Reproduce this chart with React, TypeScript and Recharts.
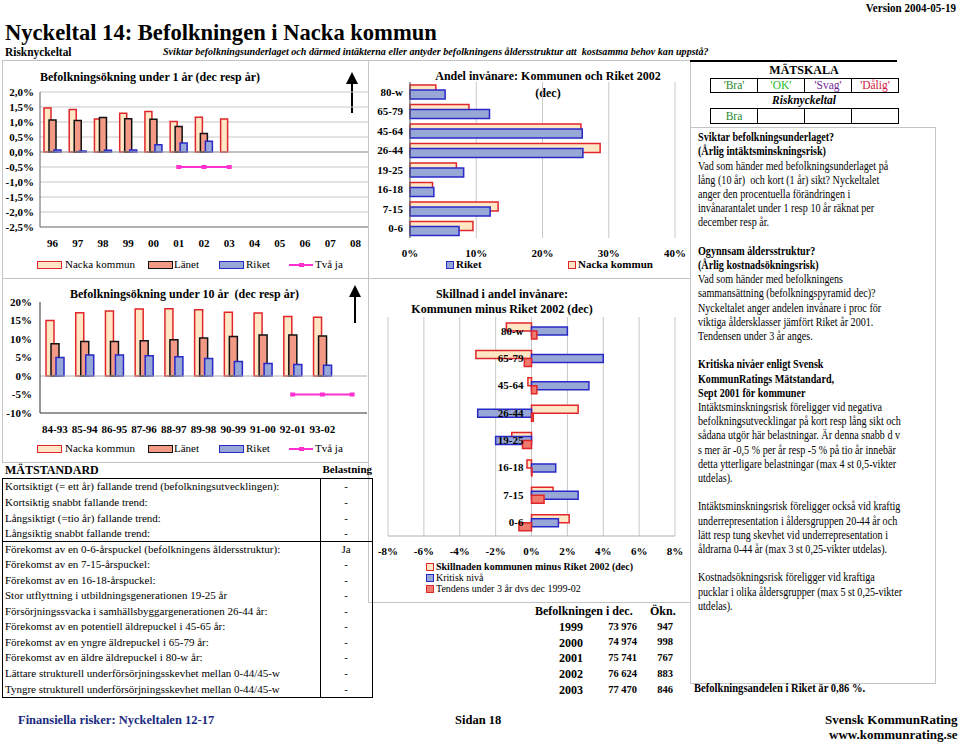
import React from "react";
import {
  Bar,
  BarChart,
  CartesianGrid,
  ComposedChart,
  Line,
  ReferenceLine,
  XAxis,
  YAxis,
} from "recharts";

const serif = "'Liberation Serif', 'Times New Roman', serif";

// chart 1: befolkningsökning under 1 år
const years = ["96", "97", "98", "99", "00", "01", "02", "03", "04", "05", "06", "07", "08"];
const nackaYear = [1.47, 1.42, 1.1, 1.29, 1.35, 1.02, 1.16, 1.1, null, null, null, null, null];
const lanetYear = [1.07, 1.05, 1.15, 1.11, 1.09, 0.85, 0.62, null, null, null, null, null, null];
const riketYear = [0.07, 0.03, 0.06, 0.07, 0.24, 0.3, 0.36, null, null, null, null, null, null];
const tvaJaYear = [null, null, null, null, null, -0.5, -0.5, -0.5, null, null, null, null, null];
const yearTicks = [-2.5, -2, -1.5, -1, -0.5, 0, 0.5, 1, 1.5, 2];

// chart 2: befolkningsökning under 10 år
const periods = ["84-93", "85-94", "86-95", "87-96", "88-97", "89-98", "90-99", "91-00", "92-01", "93-02", ""];
const nackaTen = [15.0, 17.1, 17.6, 18.1, 18.2, 17.9, 17.2, 17.0, 16.1, 15.9, null];
const lanetTen = [8.7, 9.3, 9.3, 9.5, 9.8, 10.3, 10.7, 11.1, 11.1, 10.8, null];
const riketTen = [5.0, 5.7, 5.7, 5.5, 5.2, 4.7, 3.9, 3.4, 3.1, 2.9, null];
const tvaJaTen = [null, null, null, null, null, null, null, null, -5, -5, -5];
const tenTicks = [-10, -5, 0, 5, 10, 15, 20];

// chart 3: andel invånare 2002
const ageGroups = ["80-w", "65-79", "45-64", "26-44", "19-25", "16-18", "7-15", "0-6"];
const nackaShare = [3.9, 8.9, 25.8, 28.7, 7.0, 3.4, 13.3, 9.5];
const riketShare = [5.3, 12.0, 26.0, 26.1, 8.1, 3.6, 12.1, 7.4];
const shareTicks = [0, 10, 20, 30, 40];

// chart 4: skillnad kommunen minus riket
const diffShare = [-1.4, -3.1, -0.2, 2.6, -1.1, -0.25, 1.2, 2.1];
const criticalLevel = [2.0, 4.0, 3.2, -3.0, -2.0, 1.35, 2.6, 1.5];
const trend3y = [0.3, -0.4, 0.3, 0.1, -0.5, 0.03, 0.7, -0.7];
const diffTicks = [-8, -6, -4, -2, 0, 2, 4, 6, 8];

// befolkningen i dec
const popYears = ["1999", "2000", "2001", "2002", "2003"];
const popValues = ["73 976", "74 974", "75 741", "76 624", "77 470"];
const popIncrease = ["947", "998", "767", "883", "846"];

const standardRows = [
  ["Kortsiktigt (= ett år) fallande trend (befolkningsutvecklingen):", "-"],
  ["Kortsiktig snabbt fallande trend:", "-"],
  ["Långsiktigt (=tio år) fallande trend:", "-"],
  ["Långsiktig snabbt fallande trend:", "-"],
  ["Förekomst av en 0-6-årspuckel (befolkningens åldersstruktur):", "Ja"],
  ["Förekomst av en 7-15-årspuckel:", "-"],
  ["Förekomst av en 16-18-årspuckel:", "-"],
  ["Stor utflyttning i utbildningsgenerationen 19-25 år", "-"],
  ["Försörjningssvacka i samhällsbyggargenerationen 26-44 år:", "-"],
  ["Förekomst av en potentiell äldrepuckel i 45-65 år:", "-"],
  ["Förekomst av en yngre äldrepuckel i 65-79 år:", "-"],
  ["Förekomst av en äldre äldrepuckel i 80-w år:", "-"],
  ["Lättare strukturell underförsörjningsskevhet mellan 0-44/45-w", "-"],
  ["Tyngre strukturell underförsörjningsskevhet mellan 0-44/45-w", "-"],
];

const panelLines: [string, boolean][] = [
  ["Sviktar befolkningsunderlaget?", true],
  ["(Årlig intäktsminskningsrisk)", true],
  ["Vad som händer med befolkningsunderlaget på", false],
  ["lång (10 år)  och kort (1 år) sikt? Nyckeltalet", false],
  ["anger den procentuella förändringen i", false],
  ["invånarantalet under 1 resp 10 år räknat per", false],
  ["december resp år.", false],
  ["", false],
  ["Ogynnsam åldersstruktur?", true],
  ["(Årlig kostnadsökningsrisk)", true],
  ["Vad som händer med befolkningens", false],
  ["sammansättning (befolkningspyramid dec)?", false],
  ["Nyckeltalet anger andelen invånare i proc för", false],
  ["viktiga åldersklasser jämfört Riket år 2001.", false],
  ["Tendensen under 3 år anges.", false],
  ["", false],
  ["Kritiska nivåer enligt Svensk", true],
  ["KommunRatings Mätstandard,", true],
  ["Sept 2001 för kommuner", true],
  ["Intäktsminskningsrisk föreligger vid negativa", false],
  ["befolkningsutvecklingar på kort resp lång sikt och", false],
  ["sådana utgör här belastningar. Är denna snabb d v", false],
  ["s mer är -0,5 % per år resp -5 % på tio år innebär", false],
  ["detta ytterligare belastningar (max 4 st 0,5-vikter", false],
  ["utdelas).", false],
  ["", false],
  ["Intäktsminskningsrisk föreligger också vid kraftig", false],
  ["underrepresentation i åldersgruppen 20-44 år och", false],
  ["lätt resp tung skevhet vid underrepresentation i", false],
  ["åldrarna 0-44 år (max 3 st 0,25-vikter utdelas).", false],
  ["", false],
  ["Kostnadsökningsrisk föreligger vid kraftiga", false],
  ["pucklar i olika åldersgrupper (max 5 st 0,25-vikter", false],
  ["utdelas).", false],
];

const yearData = years.map((year, i) => ({
  year,
  nacka: nackaYear[i],
  lanet: lanetYear[i],
  riket: riketYear[i],
  tvaJa: tvaJaYear[i],
}));
const tenData = periods.map((period, i) => ({
  period,
  nacka: nackaTen[i],
  lanet: lanetTen[i],
  riket: riketTen[i],
  tvaJa: tvaJaTen[i],
}));
const shareData = ageGroups.map((age, i) => ({ age, nacka: nackaShare[i], riket: riketShare[i] }));
const diffData = ageGroups.map((age, i) => ({
  age,
  diff: diffShare[i],
  critical: criticalLevel[i],
  trend: trend3y[i],
}));

const RED = "#e0262a";
const BLUE = "#2828c8";
const CREAM = "#ffe7c6";
const SALMON = "#f29a86";
const BLUEFILL = "#98a8d6";
const PINK = "#ff30d0";

const tickStyle = { fontSize: 11, fontWeight: 700, fill: "#000", fontFamily: serif };

const pct1 = (v: number) => v.toFixed(1).replace(".", ",") + "%";
const pct0 = (v: number) => v + "%";

type TP = {
  x: number;
  y: number;
  s: number;
  b?: boolean;
  i?: boolean;
  c?: string;
  sx?: number;
  a?: "left" | "center" | "right";
  children: React.ReactNode;
};

function T({ x, y, s, b, i, c, sx = 1, a = "left", children }: TP) {
  const tx = a === "center" ? "-50%" : a === "right" ? "-100%" : "0";
  return (
    <div
      style={{
        position: "absolute",
        left: x,
        top: y - s * 0.6,
        fontSize: s,
        lineHeight: `${s * 1.2}px`,
        fontWeight: b ? 700 : 400,
        fontStyle: i ? "italic" : "normal",
        color: c || "#000",
        whiteSpace: "pre",
        transform: `translateX(${tx}) scaleX(${sx})`,
        transformOrigin: a === "center" ? "center" : a === "right" ? "right" : "left",
      }}
    >
      {children}
    </div>
  );
}

function Box({ x, y, w, h, c = "#c4c4c4" }: { x: number; y: number; w: number; h: number; c?: string }) {
  return (
    <div
      style={{
        position: "absolute",
        left: x,
        top: y,
        width: w,
        height: h,
        border: `1px solid ${c}`,
        boxSizing: "border-box",
      }}
    />
  );
}

function Swatch({ x, y, fill, stroke, w = 25, h = 8 }: { x: number; y: number; fill: string; stroke: string; w?: number; h?: number }) {
  return (
    <div
      style={{
        position: "absolute",
        left: x,
        top: y - h / 2,
        width: w,
        height: h,
        background: fill,
        border: `1.5px solid ${stroke}`,
        boxSizing: "border-box",
      }}
    />
  );
}

function Arrow({ x, y1, y2 }: { x: number; y1: number; y2: number }) {
  return (
    <svg style={{ position: "absolute", left: x - 6, top: y1 }} width={12} height={y2 - y1}>
      <polygon points={`6,0 0,12 12,12`} fill="#000" />
      <line x1={6} y1={10} x2={6} y2={y2 - y1} stroke="#000" strokeWidth={2} />
    </svg>
  );
}

const squareDot = (props: any) => {
  const { cx, cy, key } = props;
  if (cx == null || cy == null || isNaN(cy)) return <g key={key} />;
  return <rect key={key} x={cx - 2.5} y={cy - 2} width={5} height={4} fill={PINK} />;
};

function LegendRow({ y }: { y: number }) {
  return (
    <>
      <Swatch x={37} y={y} fill={CREAM} stroke={RED} />
      <T x={65} y={y} s={11}>Nacka kommun</T>
      <Swatch x={148} y={y} fill={SALMON} stroke="#111" />
      <T x={174} y={y} s={11}>Länet</T>
      <Swatch x={219} y={y} fill={BLUEFILL} stroke={BLUE} />
      <T x={246} y={y} s={11}>Riket</T>
      <div style={{ position: "absolute", left: 289, top: y - 1, width: 24, height: 2, background: PINK }} />
      <div style={{ position: "absolute", left: 299, top: y - 2, width: 5, height: 4, background: PINK }} />
      <T x={315} y={y} s={11}>Två ja</T>
    </>
  );
}

const W4 = 318;
const M4L = 17;
const M4R = 13;
const Y4W = 1;
const PLOT4 = W4 - M4L - M4R - Y4W;

const AgeTick = (props: any) => {
  const { x, y, payload } = props;
  return (
    <text x={x + PLOT4 / 2 - 8} y={y} dy="0.35em" textAnchor="end" style={tickStyle}>
      {payload.value}
    </text>
  );
};

export default function App() {
  return (
    <div
      style={{
        position: "absolute",
        left: 0,
        top: 0,
        width: 960,
        height: 742,
        background: "#fff",
        overflow: "hidden",
        fontFamily: serif,
      }}
    >
      {/* header */}
      <T x={956} y={8} s={13} b sx={0.85} a="right">Version 2004-05-19</T>
      <T x={5} y={32} s={24} b sx={0.94}>Nyckeltal 14: Befolkningen i Nacka kommun</T>
      <T x={5} y={52} s={12} b sx={0.95}>Risknyckeltal</T>
      <T x={163} y={52} s={10.5} b i sx={0.96}>
        Sviktar befolkningsunderlaget och därmed intäkterna eller antyder befolkningens åldersstruktur att  kostsamma behov kan uppstå?
      </T>

      {/* frames */}
      <Box x={2} y={60} w={367} h={219} />
      <Box x={2} y={278} w={367} h={185} />
      <Box x={368} y={60} w={323} h={219} />
      <Box x={368} y={278} w={323} h={325} />
      <Box x={690} y={127} w={246} h={557} />

      {/* chart 1 */}
      <T x={40} y={77} s={12} b>Befolkningsökning under 1 år (dec resp år)</T>
      <Arrow x={352} y1={72} y2={113} />
      <div style={{ position: "absolute", left: 0, top: 82 }}>
        <ComposedChart
          width={370}
          height={175}
          data={yearData}
          margin={{ top: 10, right: 2, bottom: 0, left: 0 }}
          barSize={7}
          barGap={-2}
        >
          <CartesianGrid vertical={false} stroke="#c8c8c8" />
          <XAxis
            dataKey="year"
            interval={0}
            height={30}
            tickLine={false}
            tickSize={0}
            tickMargin={12}
            axisLine={{ stroke: "#808080" }}
            tick={tickStyle}
          />
          <YAxis
            domain={[-2.5, 2]}
            ticks={yearTicks}
            interval={0}
            tickFormatter={pct1}
            width={40}
            tickLine={false}
            tickSize={0}
            tickMargin={6}
            axisLine={{ stroke: "#606060" }}
            tick={tickStyle}
          />
          <ReferenceLine y={0} stroke="#a0a0a0" />
          <Bar dataKey="nacka" fill={CREAM} stroke={RED} strokeWidth={1.5} isAnimationActive={false} />
          <Bar dataKey="lanet" fill={SALMON} stroke="#111" strokeWidth={1.5} isAnimationActive={false} />
          <Bar dataKey="riket" fill={BLUEFILL} stroke={BLUE} strokeWidth={1.5} isAnimationActive={false} />
          <Line
            dataKey="tvaJa"
            stroke={PINK}
            strokeWidth={2}
            dot={squareDot}
            activeDot={false}
            connectNulls={false}
            isAnimationActive={false}
          />
        </ComposedChart>
      </div>
      <LegendRow y={265} />

      {/* chart 2 */}
      <T x={70} y={294} s={12} b>Befolkningsökning under 10 år  (dec resp år)</T>
      <Arrow x={355} y1={285} y2={323} />
      <div style={{ position: "absolute", left: 0, top: 292 }}>
        <ComposedChart
          width={369}
          height={150}
          data={tenData}
          margin={{ top: 10, right: 2, bottom: 0, left: 0 }}
          barSize={8}
          barGap={-3}
        >
          <XAxis
            dataKey="period"
            interval={0}
            height={29}
            tickLine={false}
            tickSize={0}
            tickMargin={12}
            axisLine={{ stroke: "#303030" }}
            tick={tickStyle}
          />
          <YAxis
            domain={[-10, 20]}
            ticks={tenTicks}
            interval={0}
            tickFormatter={pct0}
            width={40}
            tickLine={false}
            tickSize={0}
            tickMargin={8}
            axisLine={{ stroke: "#303030" }}
            tick={tickStyle}
          />
          <ReferenceLine y={0} stroke="#b0b0b0" />
          <Bar dataKey="nacka" fill={CREAM} stroke={RED} strokeWidth={1.5} isAnimationActive={false} />
          <Bar dataKey="lanet" fill={SALMON} stroke="#111" strokeWidth={1.5} isAnimationActive={false} />
          <Bar dataKey="riket" fill={BLUEFILL} stroke={BLUE} strokeWidth={1.5} isAnimationActive={false} />
          <Line
            dataKey="tvaJa"
            stroke={PINK}
            strokeWidth={2}
            dot={squareDot}
            activeDot={false}
            isAnimationActive={false}
          />
        </ComposedChart>
      </div>
      <LegendRow y={449} />

      {/* chart 3 */}
      <T x={548} y={76} s={12} b a="center">Andel invånare: Kommunen och Riket 2002</T>
      <T x={548} y={93} s={12} b a="center">(dec)</T>
      <div style={{ position: "absolute", left: 370, top: 70 }}>
        <BarChart
          layout="vertical"
          width={318}
          height={195}
          data={shareData}
          margin={{ top: 12, right: 13, bottom: 0, left: 0 }}
          barSize={9}
          barGap={-4}
        >
          <CartesianGrid horizontal={false} stroke="#c8c8c8" />
          <XAxis
            type="number"
            domain={[0, 40]}
            ticks={shareTicks}
            interval={0}
            tickFormatter={pct0}
            height={27}
            tickLine={false}
            tickSize={0}
            tickMargin={11}
            axisLine={false}
            tick={tickStyle}
          />
          <YAxis
            type="category"
            dataKey="age"
            width={40}
            interval={0}
            tickLine={false}
            tickSize={0}
            tickMargin={7}
            axisLine={{ stroke: "#606060" }}
            tick={tickStyle}
          />
          <Bar dataKey="nacka" fill={CREAM} stroke={RED} strokeWidth={1.5} isAnimationActive={false} />
          <Bar dataKey="riket" fill={BLUEFILL} stroke={BLUE} strokeWidth={1.5} isAnimationActive={false} />
        </BarChart>
      </div>
      <Swatch x={446} y={265} w={8} h={8} fill={BLUEFILL} stroke={BLUE} />
      <T x={456} y={265} s={11} b>Riket</T>
      <Swatch x={568} y={265} w={8} h={8} fill={CREAM} stroke={RED} />
      <T x={578} y={265} s={11} b>Nacka kommun</T>

      {/* chart 4 */}
      <T x={502} y={294} s={12} b a="center">Skillnad i andel invånare:</T>
      <T x={502} y={309} s={12} b a="center">Kommunen minus Riket 2002 (dec)</T>
      <div style={{ position: "absolute", left: 370, top: 305 }}>
        <BarChart
          layout="vertical"
          width={W4}
          height={260}
          data={diffData}
          margin={{ top: 12, right: M4R, bottom: 0, left: M4L }}
          barSize={8}
          barGap={-4}
        >
          <CartesianGrid horizontal={false} stroke="#c8c8c8" />
          <XAxis
            type="number"
            domain={[-8, 8]}
            ticks={diffTicks}
            interval={0}
            tickFormatter={pct0}
            height={29}
            tickLine={false}
            tickSize={0}
            tickMargin={11}
            axisLine={{ stroke: "#b0b0b0" }}
            tick={tickStyle}
          />
          <Bar dataKey="diff" fill={CREAM} stroke={RED} strokeWidth={1.5} isAnimationActive={false} />
          <Bar dataKey="critical" fill={BLUEFILL} stroke={BLUE} strokeWidth={1.5} isAnimationActive={false} />
          <Bar dataKey="trend" fill="#ef7b6e" stroke={RED} strokeWidth={1.5} isAnimationActive={false} />
          <YAxis
            type="category"
            dataKey="age"
            width={Y4W}
            interval={0}
            tickLine={false}
            tickSize={0}
            tickMargin={0}
            axisLine={false}
            tick={AgeTick}
          />
        </BarChart>
      </div>
      <Swatch x={426} y={567} w={8} h={8} fill={CREAM} stroke={RED} />
      <T x={436} y={567} s={10} b>Skillnaden kommunen minus Riket 2002 (dec)</T>
      <Swatch x={426} y={578} w={8} h={8} fill={BLUEFILL} stroke={BLUE} />
      <T x={436} y={578} s={10}>Kritisk nivå</T>
      <Swatch x={426} y={589} w={8} h={8} fill="#ef7b6e" stroke={RED} />
      <T x={436} y={589} s={10}>Tendens under 3 år dvs dec 1999-02</T>

      {/* mätskala */}
      <div style={{ position: "absolute", left: 690, top: 60, width: 207, height: 1.5, background: "#000" }} />
      <T x={804} y={70} s={12} b a="center">MÄTSKALA</T>
      {["'Bra'", "'OK'", "'Svag'", "'Dålig'"].map((lab, i) => (
        <div
          key={lab}
          style={{
            position: "absolute",
            left: 710 + i * 47,
            top: 78,
            width: 48,
            height: 15,
            border: "1px solid #000",
            boxSizing: "border-box",
            textAlign: "center",
            fontSize: 11.5,
            lineHeight: "13px",
            color: ["#1f8a2e", "#22c02a", "#7a2a9a", "#d02040"][i],
          }}
        >
          {lab}
        </div>
      ))}
      <T x={804} y={101} s={11.5} b i a="center">Risknyckeltal</T>
      {[0, 1, 2, 3].map((i) => (
        <div
          key={i}
          style={{
            position: "absolute",
            left: 710 + i * 47,
            top: 108,
            width: 48,
            height: 16,
            border: "1px solid #000",
            boxSizing: "border-box",
            textAlign: "center",
            fontSize: 11.5,
            lineHeight: "14px",
            color: "#1f8a2e",
          }}
        >
          {i === 0 ? "Bra" : ""}
        </div>
      ))}

      {/* right panel text */}
      {panelLines.map(([t, b], i) =>
        t ? (
          <T key={i} x={698} y={138 + i * 14.2} s={11.5} b={b} sx={0.88}>
            {t}
          </T>
        ) : null
      )}
      <T x={694} y={689} s={11.5} b sx={0.92}>Befolkningsandelen i Riket är 0,86 %.</T>

      {/* mätstandard table */}
      <T x={5} y={470} s={12} b>MÄTSTANDARD</T>
      <T x={372} y={470} s={11} b a="right">Belastning</T>
      <Box x={2} y={478} w={371} h={220} c="#000" />
      <div style={{ position: "absolute", left: 320, top: 478, width: 1, height: 220, background: "#000" }} />
      <div style={{ position: "absolute", left: 2, top: 541, width: 371, height: 1, background: "#000" }} />
      {standardRows.map(([t, v], i) => (
        <React.Fragment key={i}>
          <T x={5} y={487 + i * 15.55} s={11}>{t}</T>
          <T x={346} y={487 + i * 15.55} s={11} a="center">{v}</T>
        </React.Fragment>
      ))}

      {/* befolkningen i dec */}
      <T x={535} y={611} s={12} b>Befolkningen i dec.</T>
      <T x={650} y={611} s={12} b>Ökn.</T>
      {popYears.map((yr, i) => (
        <React.Fragment key={yr}>
          <T x={583} y={627 + i * 15.7} s={12} b a="right">{yr}</T>
          <T x={637} y={627 + i * 15.7} s={10.5} b a="right">{popValues[i]}</T>
          <T x={673} y={627 + i * 15.7} s={10.5} b a="right">{popIncrease[i]}</T>
        </React.Fragment>
      ))}

      {/* footer */}
      <T x={18} y={720} s={12.5} b c="#1a2a80">Finansiella risker: Nyckeltalen 12-17</T>
      <T x={455} y={720} s={12.5} b>Sidan 18</T>
      <T x={825} y={720} s={13} b>Svensk KommunRating</T>
      <T x={829} y={735} s={13} b>www.kommunrating.se</T>
    </div>
  );
}
